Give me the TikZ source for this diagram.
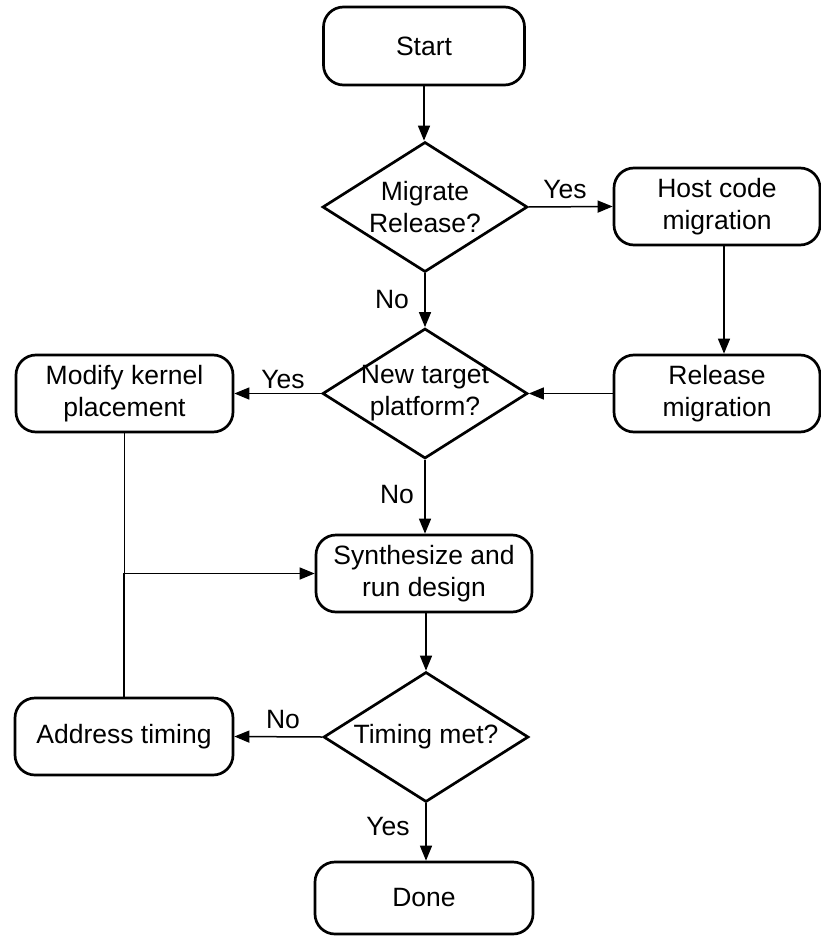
\documentclass[tikz,border=0pt]{standalone}
\usepackage{fontspec}
\setmainfont{Liberation Sans}
\usetikzlibrary{shapes.geometric,arrows.meta,calc}
\newcommand\figfont{\fontsize{26.5}{32}\selectfont}
\begin{document}
\begin{tikzpicture}[x=1pt,y=-1pt,
  box/.style={draw,line width=2.7pt,rounded corners=20pt,align=center,inner sep=0pt,font=\figfont},
  dia/.style={draw,diamond,line width=2.7pt,inner sep=0pt,minimum width=205pt,minimum height=130pt},
  diatext/.style={align=center,inner sep=0pt,font=\figfont},
  arr/.style={line width=1.5pt,-{Triangle[length=15pt,width=12pt]}},
  ln/.style={line width=1.5pt},
  lbl/.style={inner sep=0pt,font=\figfont}]
\useasboundingbox (0,0) rectangle (821,936);

% nodes
\node[box,minimum width=201pt,minimum height=78pt] (start) at (424,46) {Start};
\node[dia] (d1) at (425,207) {};
\node[diatext] (d1t) at (d1.center) {Migrate\\Release?};
\node[box,minimum width=206pt,minimum height=77pt] (host) at (717,206.5) {Host code\\migration};
\node[box,minimum width=206pt,minimum height=77pt] (rel) at (717,393.5) {Release\\migration};
\node[dia] (d2) at (425,393.5) {};
\node[diatext] (d2t) at (d2.center) {New target\\platform?};
\node[box,minimum width=217pt,minimum height=77pt] (mod) at (124.5,393.5) {Modify kernel\\placement};
\node[box,minimum width=216pt,minimum height=77pt] (syn) at (424,573.5) {Synthesize and\\run design};
\node[dia] (d3) at (426,737) {};
\node[diatext] (d3t) at (d3.center) {Timing met?};
\node[box,minimum width=218pt,minimum height=77pt] (addr) at (124,736.5) {Address timing};
\node[box,minimum width=218pt,minimum height=72pt] (done) at (424,898) {Done};

% connectors
\draw[arr] (start.south) -- (start.south |- d1.north);
\draw[arr] (d1.east) -- (host.west);
\draw[arr] ([xshift=7pt]host.south) -- ([xshift=7pt]rel.north);
\draw[arr] (rel.west) -- (d2.east);
\draw[arr] (d1.south) -- (d2.north);
\draw[arr] (d2.west) -- (mod.east);
\draw[arr] (d2.south) -- (d2.south |- syn.north);
\draw[arr] (d3.south |- syn.south) -- (d3.north);
\draw[arr] (d3.west) -- (addr.east);
\draw[arr] (d3.south) -- (d3.south |- done.north);
\draw[ln] (mod.south) -- (mod.south |- syn.west);
\draw[arr] (addr.north) |- (syn.west);

% labels
\node[lbl] (l1) at (565,190) {Yes};
\node[lbl] (l2) at (392,300) {No};
\node[lbl] (l3) at (283,380) {Yes};
\node[lbl] (l4) at (397,495) {No};
\node[lbl] (l5) at (283,720) {No};
\node[lbl] (l6) at (388,827) {Yes};
\end{tikzpicture}
\end{document}
